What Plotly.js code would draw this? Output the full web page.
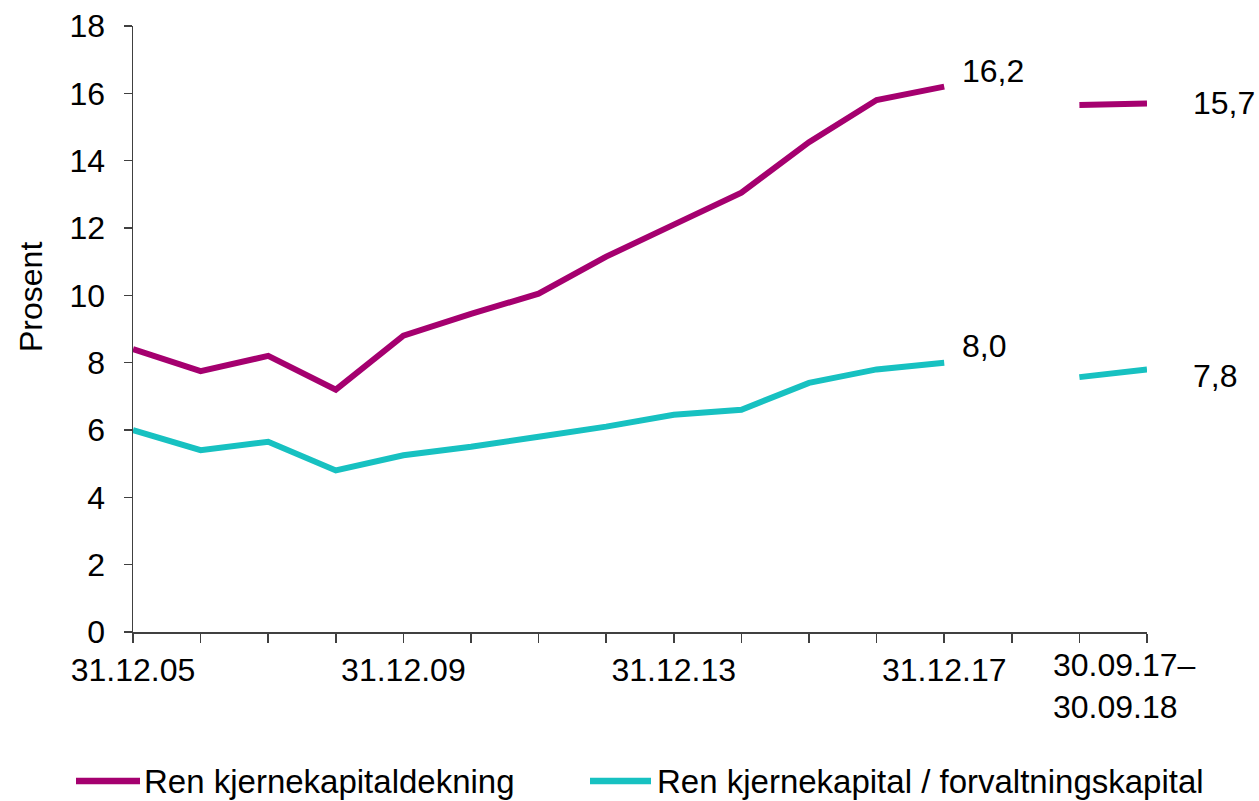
<!DOCTYPE html>
<html>
<head>
<meta charset="utf-8">
<script src="https://cdn.plot.ly/plotly-3.0.1.min.js"></script>
<style>html,body{margin:0;padding:0;background:#fff;}#chart{width:1259px;height:801px;}</style>
</head>
<body>
<div id="chart"></div>
<script>
// ---- data ----
const xIndex = [0,1,2,3,4,5,6,7,8,9,10,11,12];
const periodIndex = [14,15];
const tickPositions = [0,1,2,3,4,5,6,7,8,9,10,11,12,13,14,15];
const tickLabels = ['31.12.05','','','','31.12.09','','','','31.12.13','','','','31.12.17','','',''];
const periodLabel = '30.09.17–<br>30.09.18';
const seriesNames = ['Ren kjernekapitaldekning','Ren kjernekapital / forvaltningskapital'];
const cet1Ratio = [8.4,7.75,8.2,7.2,8.8,9.45,10.05,11.15,12.1,13.05,14.55,15.8,16.2];
const cet1RatioPeriod = [15.65,15.7];
const leverage = [6.0,5.4,5.65,4.8,5.25,5.5,5.8,6.1,6.45,6.6,7.4,7.8,8.0];
const leveragePeriod = [7.57,7.8];
const colors = ['#A5006F','#17C1C1'];

// ---- layout helpers ----
const W = 1259, H = 801;
const M = {l:133, r:112, t:26, b:169};
const pw = W - M.l - M.r, ph = H - M.t - M.b;
const px = x => (x - M.l) / pw;
const py = y => (H - M.b - y) / ph;
const FONT = 'Liberation Sans, Arial, sans-serif';
const FS = 32;
const LFS = 33;
const fmt = v => v.toFixed(1).replace('.', ',');

const traces = [
  {x:xIndex, y:cet1Ratio, mode:'lines', line:{color:colors[0], width:6}, name:seriesNames[0], showlegend:false},
  {x:periodIndex, y:cet1RatioPeriod, mode:'lines', line:{color:colors[0], width:6}, name:seriesNames[0], showlegend:false},
  {x:xIndex, y:leverage, mode:'lines', line:{color:colors[1], width:6}, name:seriesNames[1], showlegend:false},
  {x:periodIndex, y:leveragePeriod, mode:'lines', line:{color:colors[1], width:6}, name:seriesNames[1], showlegend:false}
];

const lastA = cet1Ratio.length - 1;
const annotations = [
  {x:xIndex[lastA], y:cet1Ratio[lastA], text:fmt(cet1Ratio[lastA]), xanchor:'left', yanchor:'middle', xshift:16, yshift:16, showarrow:false},
  {x:periodIndex[1], y:cet1RatioPeriod[1], text:fmt(cet1RatioPeriod[1]), xanchor:'left', yanchor:'middle', xshift:44, yshift:0, showarrow:false},
  {x:xIndex[lastA], y:leverage[lastA], text:fmt(leverage[lastA]), xanchor:'left', yanchor:'middle', xshift:16, yshift:17, showarrow:false},
  {x:periodIndex[1], y:leveragePeriod[1], text:fmt(leveragePeriod[1]), xanchor:'left', yanchor:'middle', xshift:44, yshift:-7, showarrow:false},
  {x:periodIndex[0], y:0, yref:'y', text:periodLabel, xanchor:'left', yanchor:'top', align:'left', xshift:-28, yshift:-13, showarrow:false},
  {xref:'paper', yref:'paper', x:px(31), y:py(297), text:'Prosent', textangle:-90, showarrow:false, xanchor:'center', yanchor:'middle'},
  {xref:'paper', yref:'paper', x:px(142), y:py(781), text:seriesNames[0], xanchor:'left', yanchor:'middle', showarrow:false, font:{family:FONT, size:LFS, color:'#000'}},
  {xref:'paper', yref:'paper', x:px(655), y:py(781), text:seriesNames[1], xanchor:'left', yanchor:'middle', showarrow:false, font:{family:FONT, size:LFS, color:'#000'}}
].map(a => Object.assign({font:{family:FONT, size:FS, color:'#000'}}, a));

const shapes = [
  {type:'line', xref:'paper', yref:'paper', x0:px(76), x1:px(140), y0:py(781), y1:py(781), line:{color:colors[0], width:6.5}},
  {type:'line', xref:'paper', yref:'paper', x0:px(590), x1:px(651), y0:py(781), y1:py(781), line:{color:colors[1], width:6.5}}
];

const layout = {
  width:W, height:H,
  margin:M,
  paper_bgcolor:'#fff', plot_bgcolor:'#fff',
  font:{family:FONT, size:FS, color:'#000'},
  showlegend:false,
  xaxis:{
    range:[0,15], tickmode:'array', tickvals:tickPositions, ticktext:tickLabels,
    ticks:'outside', ticklen:9, tickwidth:1.5, tickcolor:'#404040',
    showline:true, linecolor:'#404040', linewidth:1.5,
    showgrid:false, zeroline:false, tickangle:0,
    tickfont:{family:FONT, size:FS, color:'#000'}
  },
  yaxis:{
    range:[0,18], dtick:2, tick0:0,
    ticks:'outside', ticklen:8, tickwidth:1.5, tickcolor:'#404040',
    showline:true, linecolor:'#404040', linewidth:1.5,
    showgrid:false, zeroline:false, ticklabelstandoff:12,
    tickfont:{family:FONT, size:FS, color:'#000'}
  },
  annotations:annotations,
  shapes:shapes
};

Plotly.newPlot('chart', traces, layout, {staticPlot:true, displayModeBar:false});
</script>
</body>
</html>
